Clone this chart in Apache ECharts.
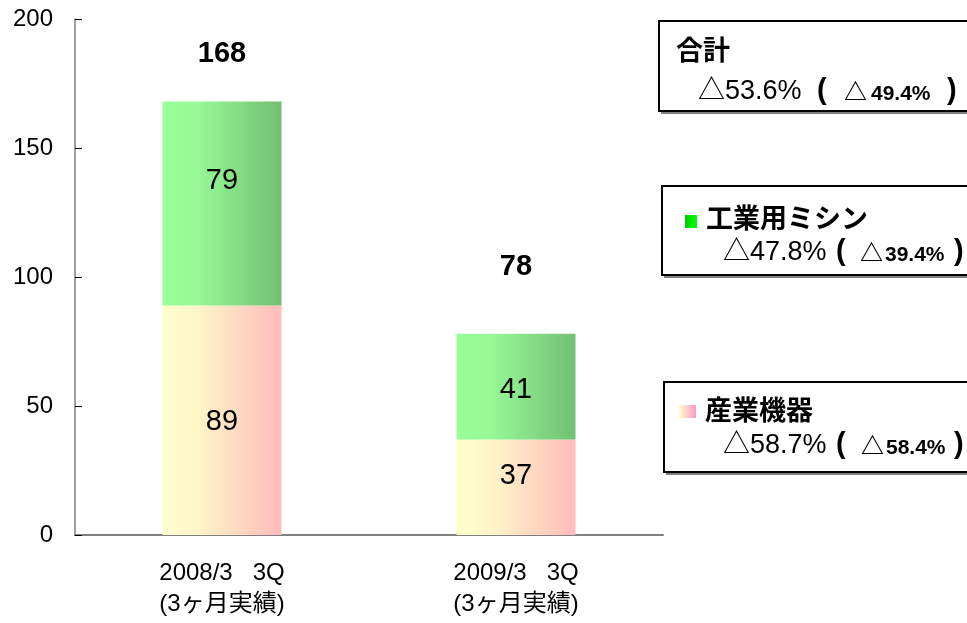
<!DOCTYPE html>
<html>
<head>
<meta charset="utf-8">
<script src="https://cdn.jsdelivr.net/npm/echarts@6/dist/echarts.min.js"></script>
<style>html,body{margin:0;padding:0;background:#fff}#c{width:967px;height:623px}</style>
</head>
<body>
<div id="c"></div>
<script>
var categories = ['2008/3   3Q\n(3ヶ月実績)', '2009/3   3Q\n(3ヶ月実績)'];
var industrial = [89, 37];   // 産業機器
var sewing = [79, 41];       // 工業用ミシン
var yTicks = [0, 50, 100, 150, 200];
var totals = industrial.map(function (v, i) { return v + sewing[i]; });

var FONT = '"Liberation Sans", Arial, "Noto Sans CJK JP", sans-serif';
var chart = echarts.init(document.getElementById('c'));

var greenGrad = new echarts.graphic.LinearGradient(0, 0, 1, 0, [
  {offset: 0, color: '#99FF99'}, {offset: 0.3, color: '#96F896'}, {offset: 1, color: '#72C072'}]);
var pinkGrad = new echarts.graphic.LinearGradient(0, 0, 1, 0, [
  {offset: 0, color: '#FFFFCC'}, {offset: 0.3, color: '#FFF5C8'}, {offset: 1, color: '#FFBBBB'}]);

var sewOffsets = [[0, -22], [0, 3]];
var indOffsets = [[0, 2], [0, -11]];
var totOffsets = [[0, -33], [0, -52]];

function txt(x, y, s, font) {
  return {type: 'text', x: x, y: y, style: {text: s, font: font, fill: '#000', verticalAlign: 'middle', align: 'left'}};
}
function box(x, y, w, h) {
  return [
    {type: 'rect', shape: {x: x + 2, y: y + 3, width: w, height: h}, style: {fill: '#808080'}},
    {type: 'rect', shape: {x: x, y: y, width: w, height: h}, style: {fill: '#fff', stroke: '#000', lineWidth: 2}}
  ];
}
var TITLE = 'bold 27px ' + FONT;
var MAIN = '27px ' + FONT;
var PAREN = 'bold 29px ' + FONT;
var SUB = 'bold 21px ' + FONT;
var TRI = 'bold 23px ' + FONT;

var graphics = [].concat(
  box(659, 21, 312, 90),
  [txt(676, 53, '合計', TITLE),
   txt(698, 92, '△53.6%', MAIN), txt(817, 91, '(', PAREN), txt(844, 94, '△', TRI), txt(871, 94, '49.4%', SUB), txt(947, 91, ')', PAREN)],
  box(662, 186, 312, 89),
  [{type: 'rect', shape: {x: 685, y: 215, width: 12, height: 13}, style: {fill: new echarts.graphic.LinearGradient(0, 0, 1, 0, [{offset: 0, color: '#00CC00'}, {offset: 1, color: '#00FF00'}])}},
   txt(706, 221, '工業用ミシン', TITLE),
   txt(723, 253, '△47.8%', MAIN), txt(836, 252, '(', PAREN), txt(860, 255, '△', TRI), txt(885, 255, '39.4%', SUB), txt(954, 252, ')', PAREN)],
  box(664, 382, 312, 90),
  [{type: 'rect', shape: {x: 679, y: 405, width: 17, height: 13}, style: {fill: new echarts.graphic.LinearGradient(0, 0, 1, 0, [{offset: 0, color: '#FFFFCC'}, {offset: 1, color: '#FF99CC'}])}},
   txt(705, 413, '産業機器', TITLE),
   txt(723, 446, '△58.7%', MAIN), txt(836, 445, '(', PAREN), txt(861, 448, '△', TRI), txt(886, 448, '58.4%', SUB), txt(954, 445, ')', PAREN)]
);

chart.setOption({
  animation: false,
  textStyle: {fontFamily: FONT},
  grid: {left: 75, right: 304, top: 19, bottom: 88, containLabel: false},
  xAxis: {
    type: 'category',
    data: categories,
    axisLine: {lineStyle: {color: '#808080', width: 2}},
    axisTick: {show: false},
    axisLabel: {color: '#000', fontSize: 24, lineHeight: 31, margin: 23, fontFamily: FONT}
  },
  yAxis: {
    type: 'value',
    min: yTicks[0], max: yTicks[yTicks.length - 1], interval: 50,
    axisLine: {show: true, lineStyle: {color: '#808080', width: 1.5}},
    axisTick: {show: true, inside: true, length: 7, lineStyle: {color: '#000'}},
    splitLine: {show: false},
    axisLabel: {color: '#000', fontSize: 24, margin: 22, fontFamily: FONT}
  },
  series: [
    {
      type: 'bar', stack: 't', barWidth: 119,
      data: industrial.map(function (v, i) { return {value: v, label: {offset: indOffsets[i]}}; }),
      itemStyle: {color: pinkGrad},
      label: {show: true, position: 'inside', color: '#000', fontSize: 29, fontFamily: FONT}
    },
    {
      type: 'bar', stack: 't', barWidth: 119,
      data: sewing.map(function (v, i) { return {value: v, label: {offset: sewOffsets[i]}}; }),
      itemStyle: {color: greenGrad},
      label: {show: true, position: 'inside', color: '#000', fontSize: 29, fontFamily: FONT}
    },
    {
      type: 'scatter', symbolSize: 0, silent: true,
      itemStyle: {opacity: 1},
      data: totals.map(function (v, i) { return {value: v, label: {offset: totOffsets[i]}}; }),
      label: {show: true, position: 'top', distance: 0, color: '#000', fontSize: 29, fontWeight: 'bold', fontFamily: FONT}
    }
  ],
  graphic: graphics
});
</script>
</body>
</html>
